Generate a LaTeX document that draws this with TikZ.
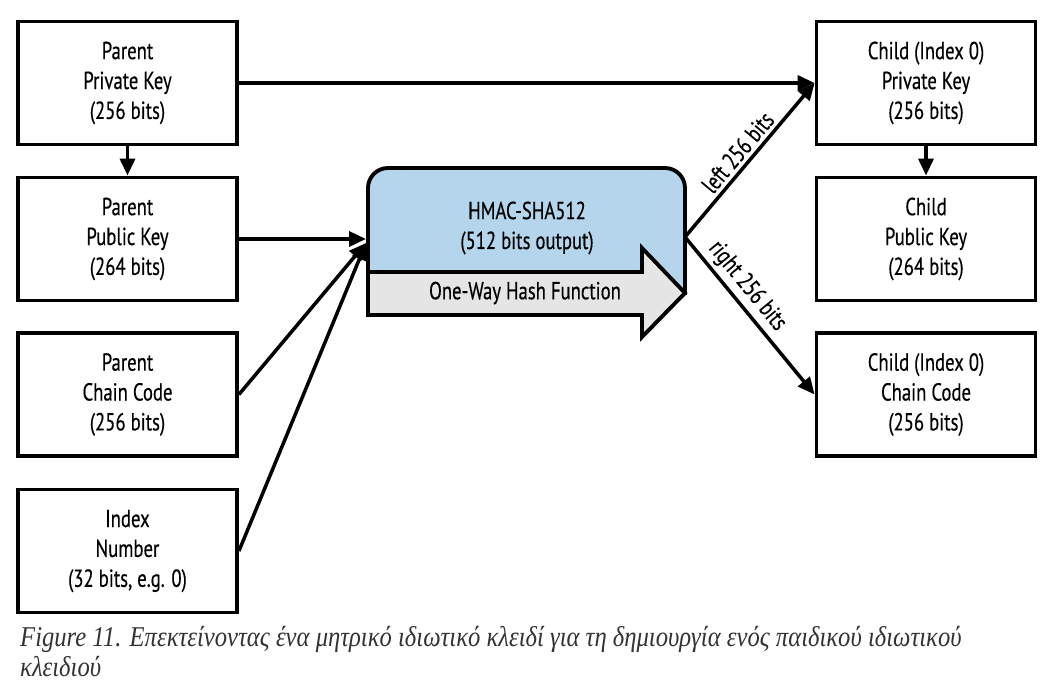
\documentclass[tikz,border=0pt]{standalone}
\usepackage{fontspec}
\setmainfont{PT Sans}[FakeStretch=0.76, FakeBold=0.4]
\newfontfamily\capfont{Liberation Serif}[FakeStretch=0.86]
\usetikzlibrary{arrows.meta}
\definecolor{hmacblue}{RGB}{180,213,235}
\definecolor{hashgray}{RGB}{229,229,229}
\tikzset{
    keybox/.style={draw, line width=2.2pt, minimum width=4.38cm, minimum height=2.46cm, align=center, font=\fontsize{14}{17}\selectfont},
    link/.style={line width=2pt, -{Triangle[length=3.4mm,width=3mm]}},
}
\begin{document}
\begin{tikzpicture}[x=0.02cm, y=-0.02cm]
    \useasboundingbox (0,0) rectangle (1058,690);

    \node[keybox] (ppriv) at (127.5,83) {Parent\\Private Key\\(256 bits)};
    \node[keybox] (ppub) at (127.5,239) {Parent\\Public Key\\(264 bits)};
    \node[keybox] (pchain) at (127.5,394.5) {Parent\\Chain Code\\(256 bits)};
    \node[keybox] (pidx) at (127.5,551) {Index\\Number\\(32 bits, e.g. 0)};
    \node[keybox] (cpriv) at (926,83) {Child (Index 0)\\Private Key\\(256 bits)};
    \node[keybox] (cpub) at (926,239) {Child\\Public Key\\(264 bits)};
    \node[keybox] (cchain) at (926,394.5) {Child (Index 0)\\Chain Code\\(256 bits)};

    \coordinate (hin) at (366,243);
    \coordinate (hout) at (685,237);

    % hmac box with the hash arrow over its lower part
    \filldraw[fill=hmacblue, line width=2.2pt] (368,300) [rounded corners=0.4cm] -- (368,168) -- (685,168) [sharp corners] -- (685,293) -- cycle;
    \filldraw[fill=hashgray, line width=2.2pt] (368,272) -- (642,272) -- (642,248) -- (685,293) -- (642,337) -- (642,315) -- (368,315) -- cycle;
    \node[align=center, font=\fontsize{14}{17}\selectfont] (hmac) at (527,228) {HMAC-SHA512\\(512 bits output)};
    \node[font=\fontsize{14}{17}\selectfont] (owhf) at (525,293) {One-Way Hash Function};

    \draw[link] (ppriv) -- (ppub);
    \draw[link] (cpriv) -- (cpub);
    \draw[link] (ppriv) -- (cpriv);
    \draw[link] (ppub) -- (ppub -| hin);
    \foreach \src in {pchain,pidx} \draw[link] (\src.east) -- (hin);
    \draw[link] (hout) -- node[sloped, above, pos=0.49, inner sep=2pt, font=\fontsize{14}{17}\selectfont] {left 256 bits} (cpriv.west);
    \draw[link] (hout) -- node[sloped, above, pos=0.38, inner sep=2pt, font=\fontsize{14}{17}\selectfont] {right 256 bits} (cchain.west);

    \node[anchor=north west, align=left, text=black!80, font=\capfont\itshape\fontsize{16.3}{17}\selectfont] (caption) at (14,620) {Figure 11. Επεκτείνοντας ένα μητρικό ιδιωτικό κλειδί για τη δημιουργία ενός παιδικού ιδιωτικού\\κλειδιού};
\end{tikzpicture}
\end{document}
